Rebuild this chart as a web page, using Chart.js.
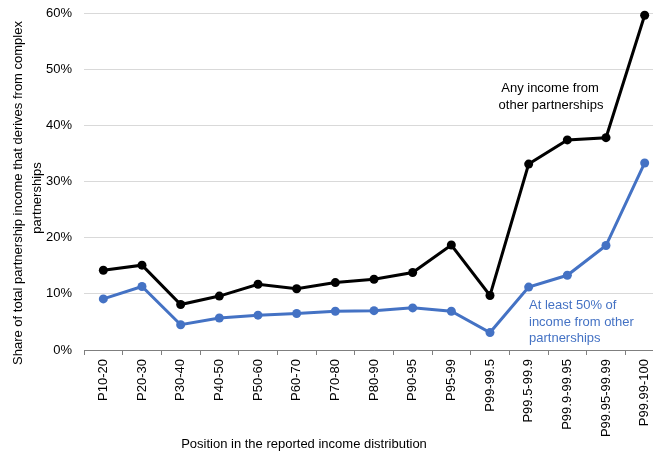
<!DOCTYPE html>
<html>
<head>
<meta charset="utf-8">
<script src="https://cdn.jsdelivr.net/npm/chart.js@4/dist/chart.umd.min.js"></script>
<style>
  html, body { margin: 0; padding: 0; background: #fff; overflow: hidden; }
  #wrap { width: 664px; height: 456px; }
</style>
</head>
<body>
<div id="wrap"><canvas id="chart" width="664" height="456"></canvas></div>
<script>
const categories = ['P10-20', 'P20-30', 'P30-40', 'P40-50', 'P50-60', 'P60-70', 'P70-80',
  'P80-90', 'P90-95', 'P95-99', 'P99-99.5', 'P99.5-99.9', 'P99.9-99.95', 'P99.95-99.99', 'P99.99-100'];

// share in percent
const anyIncome = [14.2, 15.1, 8.1, 9.6, 11.7, 10.9, 12.0, 12.6, 13.8, 18.7, 9.7, 33.1, 37.4, 37.8, 59.6];
const atLeastHalf = [9.1, 11.3, 4.5, 5.7, 6.2, 6.5, 6.9, 7.0, 7.5, 6.9, 3.1, 11.2, 13.3, 18.6, 33.3];

const yTicks = [0, 10, 20, 30, 40, 50, 60];

const FONT = '"Liberation Sans", Arial, sans-serif';
const BLUE = '#4472C4';

// titles and series notes drawn on top
const textPlugin = {
  id: 'texts',
  afterDraw(chart) {
    const ctx = chart.ctx;
    ctx.save();
    ctx.font = '13px ' + FONT;
    ctx.textBaseline = 'middle';

    // y axis title, two rotated lines
    ctx.fillStyle = '#000';
    ctx.textAlign = 'center';
    ctx.save();
    ctx.translate(18, 193);
    ctx.rotate(-Math.PI / 2);
    ctx.fillText('Share of total partnership income that derives from complex', 0, 0);
    ctx.restore();
    ctx.save();
    ctx.translate(37, 198);
    ctx.rotate(-Math.PI / 2);
    ctx.fillText('partnerships', 0, 0);
    ctx.restore();

    // x axis title
    ctx.fillText('Position in the reported income distribution', 304, 444);

    // series notes
    ctx.fillText('Any income from', 550, 88);
    ctx.fillText('other partnerships', 551, 105);

    ctx.fillStyle = BLUE;
    ctx.textAlign = 'left';
    ctx.fillText('At least 50% of', 529, 305);
    ctx.fillText('income from other', 529, 322);
    ctx.fillText('partnerships', 529, 338);
    ctx.restore();
  }
};

new Chart(document.getElementById('chart'), {
  type: 'line',
  data: {
    labels: categories,
    datasets: [{
      label: 'Any income from other partnerships',
      data: anyIncome,
      borderColor: '#000',
      backgroundColor: '#000',
      borderWidth: 3,
      pointRadius: 4.5,
      pointBorderWidth: 0,
      tension: 0,
      clip: false
    }, {
      label: 'At least 50% of income from other partnerships',
      data: atLeastHalf,
      borderColor: BLUE,
      backgroundColor: BLUE,
      borderWidth: 3,
      pointRadius: 4.5,
      pointBorderWidth: 0,
      tension: 0,
      clip: false
    }]
  },
  options: {
    responsive: false,
    animation: false,
    layout: { autoPadding: false, padding: { top: 13, left: 0, right: 0, bottom: 0 } },
    plugins: {
      legend: { display: false },
      tooltip: { enabled: false }
    },
    scales: {
      x: {
        offset: true,
        afterFit: (s) => { s.height = 106; s.paddingLeft = 0; s.paddingRight = 0; },
        grid: {
          offset: true,
          drawOnChartArea: false,
          drawTicks: true,
          tickLength: 5,
          color: '#7f7f7f'
        },
        border: { color: '#7f7f7f', width: 1 },
        ticks: {
          autoSkip: false,
          minRotation: 90,
          maxRotation: 90,
          padding: 4,
          color: '#000',
          font: { family: FONT, size: 13 }
        }
      },
      y: {
        min: 0,
        max: 60,
        afterFit: (s) => { s.width = 84; s.paddingTop = 0; s.paddingBottom = 0; },
        afterBuildTicks: (s) => { s.ticks = yTicks.map(v => ({ value: v })); },
        grid: { color: '#d9d9d9', drawTicks: false },
        border: { display: false },
        ticks: {
          padding: 12,
          color: '#000',
          font: { family: FONT, size: 13 },
          callback: (v) => v + '%'
        }
      }
    }
  },
  plugins: [textPlugin]
});
</script>
</body>
</html>
